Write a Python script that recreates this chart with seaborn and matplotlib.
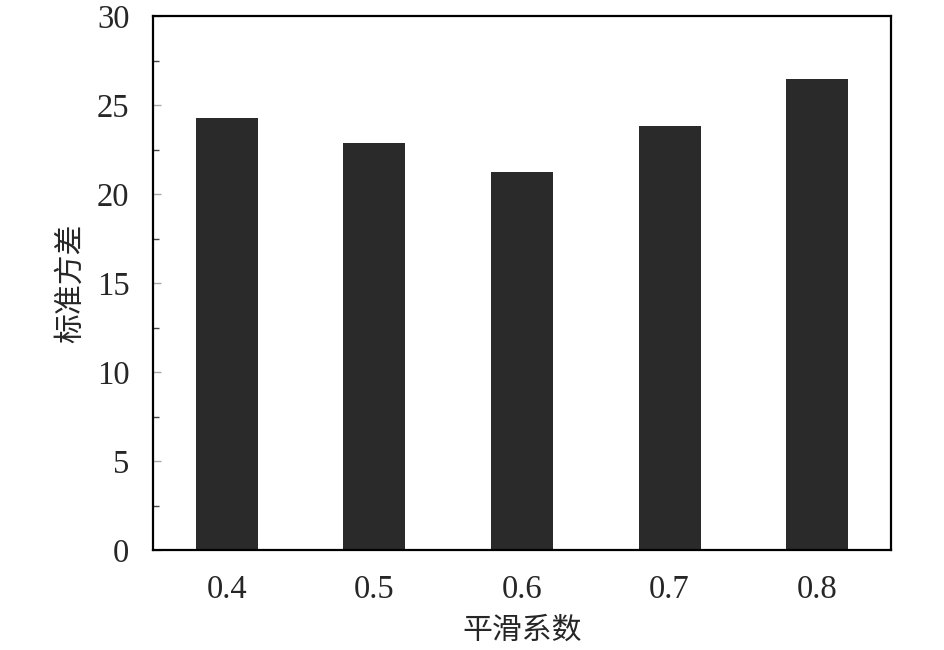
import matplotlib
matplotlib.use("Agg")
import matplotlib.pyplot as plt
import seaborn as sns
import pandas as pd
from matplotlib.ticker import MultipleLocator

categories = ["0.4", "0.5", "0.6", "0.7", "0.8"]
values = [24.27, 22.87, 21.24, 23.82, 26.46]
x_label = "平滑系数"
y_label = "标准方差"

df = pd.DataFrame({"coef": categories, "std": values})

sns.set_theme(style="white")
plt.rcParams['font.family'] = ['Liberation Serif', 'Noto Sans CJK SC']

fig = plt.figure(figsize=(9.45, 6.5), dpi=100)
ax = fig.add_axes([153/945, 100/650, (891-153)/945, (550-16)/650])

sns.barplot(data=df, x="coef", y="std", color="#2b2a2b", saturation=1,
            width=0.42, ax=ax, order=categories, linewidth=0)

ax.set_xlim(-0.5, 4.5)
ax.set_ylim(0, 30)
ax.yaxis.set_major_locator(MultipleLocator(5))
ax.yaxis.set_minor_locator(MultipleLocator(2.5))

for s in ax.spines.values():
    s.set_visible(True)
    s.set_color("black")
    s.set_linewidth(1.6)

ax.tick_params(axis="y", which="major", direction="in", length=6, width=1,
               color="#aaaaaa", pad=17, labelsize=23.5, left=True)
ax.tick_params(axis="y", which="minor", direction="in", length=4, width=1,
               color="#444444", left=True)
ax.tick_params(axis="x", which="both", length=0, pad=18, labelsize=23.5)

ax.set_xlabel(x_label, family=['Noto Sans CJK SC'], fontsize=21.5, labelpad=7)
ax.set_ylabel(y_label, family=['Noto Sans CJK SC'], fontsize=21.5, labelpad=8)

fig.savefig("out.png", dpi=100, facecolor="white")
